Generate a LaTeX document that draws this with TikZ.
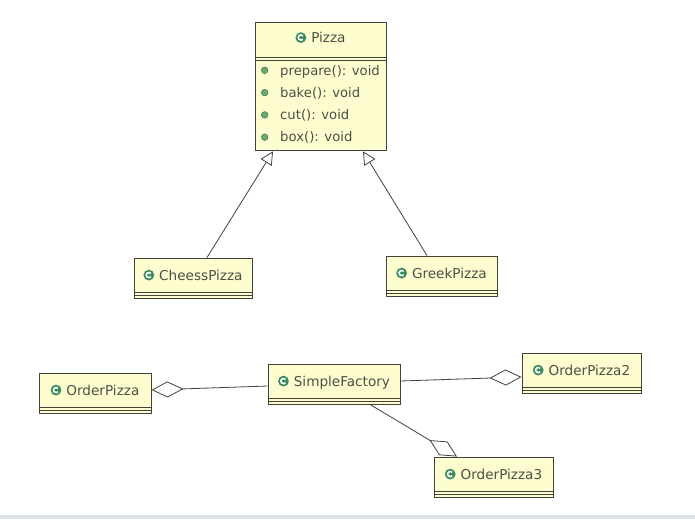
\documentclass[tikz,border=0pt]{standalone}
\usepackage{xcolor}
\usepackage{fontspec}
\setmainfont{DejaVu Sans}
\usepackage{tikz}
\usetikzlibrary{arrows.meta,positioning}

\definecolor{boxfill}{RGB}{253,253,208}
\definecolor{boxline}{RGB}{66,66,58}
\definecolor{txt}{RGB}{78,78,70}
\definecolor{icongreen}{RGB}{58,140,92}
\definecolor{dotgreen}{RGB}{104,170,112}
\definecolor{dotedge}{RGB}{60,120,74}
\definecolor{band}{RGB}{222,227,234}

% class icon and operation bullet
\newcommand{\clsicon}{\tikz[x=1pt,y=1pt,baseline=-4.9pt]{\fill[icongreen] (0,0) circle (5.4pt); \draw[white, line width=1.6pt] (40:2.6pt) arc (40:320:2.6pt);}}
\newcommand{\opdot}{\tikz[x=1pt,y=1pt,baseline=-4.8pt]{\filldraw[fill=dotgreen, draw=dotedge, line width=0.5pt] (0,0) circle (3.3pt);}}

\begin{document}
\begin{tikzpicture}[
    x=1pt, y=-1pt,
    umlclass/.style={rectangle, draw=boxline, fill=boxfill, line width=0.9pt, text=txt, inner sep=0pt, font=\fontsize{13.6}{15}\selectfont, text height=10pt, text depth=6pt, minimum height=40pt},
    umlops/.style={rectangle, draw=boxline, fill=boxfill, line width=0.9pt, text=txt, inner sep=0pt, align=left, font=\fontsize{13.2}{22.3}\selectfont},
    inherit/.style={-{Triangle[fill=white, length=13pt, width=13pt]}, draw=boxline, line width=0.8pt},
    aggr/.style={{Diamond[fill=white, length=32pt, width=16pt]}-, draw=boxline, line width=0.8pt}
]
\useasboundingbox (0,0) rectangle (695,519);
\fill[white] (0,0) rectangle (695,519);
\fill[band] (0,515) rectangle (695,519);

\node[umlclass, minimum width=131pt, minimum height=35pt, text depth=4pt] (pizza) at (320.5,39.5) {\clsicon\hspace{5pt}Pizza};
\node[umlops, minimum width=131pt, minimum height=93pt, below=0pt of pizza] (pizzaops) {\opdot\hspace{12pt}prepare(): void\\ \opdot\hspace{12pt}bake(): void\\ \opdot\hspace{12pt}cut(): void\\ \opdot\hspace{12pt}box(): void};
\draw[boxline, line width=0.9pt] ([yshift=-3pt]pizzaops.north west) -- ([yshift=-3pt]pizzaops.north east);

\node[umlclass, minimum width=118pt] (cheess) at (193,278) {\clsicon\hspace{5pt}CheessPizza};
\node[umlclass, minimum width=111pt] (greek) at (441.5,276) {\clsicon\hspace{5pt}GreekPizza};

\node[umlclass, minimum width=112pt] (orderpizza) at (95,393) {\clsicon\hspace{5pt}OrderPizza};
\node[umlclass, minimum width=132pt] (factory) at (334,384) {\clsicon\hspace{5pt}SimpleFactory};
\node[umlclass, minimum width=119pt] (orderpizza2) at (581.5,373) {\clsicon\hspace{5pt}OrderPizza2};
\node[umlclass, minimum width=119pt] (orderpizza3) at (493.5,477) {\clsicon\hspace{5pt}OrderPizza3};

% empty compartments
\foreach \c in {cheess,greek,orderpizza,factory,orderpizza2,orderpizza3} {
    \draw[boxline, line width=0.9pt] ([yshift=6.5pt]\c.south west) -- ([yshift=6.5pt]\c.south east);
    \draw[boxline, line width=0.9pt] ([yshift=3.5pt]\c.south west) -- ([yshift=3.5pt]\c.south east);
}

\draw[inherit] ([xshift=14pt]cheess.north) -- ([xshift=-47.5pt]pizzaops.south);
\draw[inherit] ([xshift=-14.5pt]greek.north) -- ([xshift=42.5pt]pizzaops.south);

\draw[aggr] ([yshift=3pt]orderpizza.east) -- ([yshift=-2pt]factory.west);
\draw[aggr] ([yshift=-4pt]orderpizza2.west) -- ([yshift=3pt]factory.east);
\draw[aggr] ([xshift=-36.5pt]orderpizza3.north) -- ([xshift=36pt]factory.south);

\end{tikzpicture}
\end{document}
